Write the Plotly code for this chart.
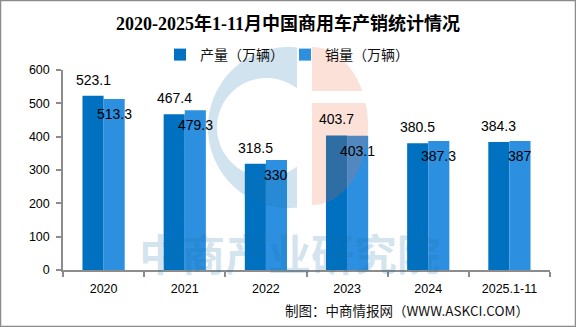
import numpy as np
import plotly.graph_objects as go

# ---- data -------------------------------------------------------------
years = ["2020", "2021", "2022", "2023", "2024", "2025.1-11"]
production = [523.1, 467.4, 318.5, 403.7, 380.5, 384.3]   # 产量（万辆）
sales = [513.3, 479.3, 330, 403.1, 387.3, 387]           # 销量（万辆）
y_ticks = [0, 100, 200, 300, 400, 500, 600]

title_text = "2020-2025年1-11月中国商用车产销统计情况"
source_text = "制图：中商情报网（WWW.ASKCI.COM）"
watermark_text = "中商产业研究院"

# ---- geometry of the canvas ----------------------------------------------
W, H = 576, 327
ML, MR, MT, MB = 63, 26, 70, 57
PW, PH = W - ML - MR, H - MT - MB

def px(x):  # pixel x -> paper x
    return (x - ML) / PW

def py(y):  # pixel y -> paper y
    return (H - MB - y) / PH

def path_from_pixels(pts):
    return "M " + " L ".join(f"{px(x):.5f},{py(y):.5f}" for x, y in pts) + " Z"

C_PROD = "#0070C0"
C_SALE = "#2C8FE0"
AXIS = "#8C8C8C"
NUM_FONT = "Liberation Sans, Noto Sans CJK SC, sans-serif"
CJK_FONT = "Noto Sans CJK SC, sans-serif"

fig = go.Figure()
fig.add_trace(go.Bar(name="产量（万辆）", x=years, y=production,
                     marker=dict(color=C_PROD, line=dict(width=0))))
fig.add_trace(go.Bar(name="销量（万辆）", x=years, y=sales,
                     marker=dict(color=C_SALE, line=dict(width=0))))

# ---- logo watermark: blue "C" ring and a peach half disc --------------------
cx, cy, r_out = 288.5, 127.5, 80.5
icx, r_in = 266.5, 49.5
x_cut = 297.0
t0 = np.degrees(np.arccos((x_cut - cx) / r_out))
ti = np.degrees(np.arccos((x_cut - icx) / r_in))
outer = [(cx + r_out * np.cos(np.radians(t)), cy - r_out * np.sin(np.radians(t)))
         for t in np.linspace(t0, 360 - t0, 120)]
inner = [(icx + r_in * np.cos(np.radians(t)), cy - r_in * np.sin(np.radians(t)))
         for t in np.linspace(360 - ti, ti, 90)]
ring_path = path_from_pixels(outer + inner)

ex, ey, erx, ery = 312.0, 126.0, 56.0, 79.0
gap_top, gap_bot = 91.0, 103.0

def half_ellipse_band(y_a, y_b):
    ts = np.linspace(np.arcsin((ey - y_a) / ery), np.arcsin((ey - y_b) / ery), 60)
    pts = [(ex + erx * np.cos(t), ey - ery * np.sin(t)) for t in ts]
    return [(ex, y_a)] + pts + [(ex, y_b)]

peach_top = path_from_pixels(half_ellipse_band(ey - ery, gap_top))
peach_bot = path_from_pixels(half_ellipse_band(gap_bot, ey + ery))

shapes = [
    dict(type="path", path=ring_path, xref="paper", yref="paper",
         fillcolor="rgba(25,115,170,0.2)", line=dict(width=0), layer="above"),
    dict(type="path", path=peach_top, xref="paper", yref="paper",
         fillcolor="rgba(235,107,59,0.2)", line=dict(width=0), layer="above"),
    dict(type="path", path=peach_bot, xref="paper", yref="paper",
         fillcolor="rgba(235,107,59,0.2)", line=dict(width=0), layer="above"),
    # outer frame of the graphic
    dict(type="rect", xref="paper", yref="paper",
         x0=px(0.5), x1=px(W - 0.5), y0=py(H - 0.5), y1=py(0.5),
         line=dict(color="#8C8C8C", width=1.5), fillcolor="rgba(0,0,0,0)",
         layer="above"),
]

annotations = [
    dict(text=watermark_text, x=px(289), y=py(252), xref="paper", yref="paper",
         showarrow=False, xanchor="center", yanchor="middle",
         font=dict(family=CJK_FONT, size=43, color="rgba(25,115,170,0.2)",
                   weight="bold")),
    dict(text=source_text, x=px(531), y=py(310), xref="paper", yref="paper",
         showarrow=False, xanchor="right", yanchor="middle",
         font=dict(family=CJK_FONT, size=13.5, color="#111111")),
]

# value labels: production above its bar, sales just inside its bar top
# (x given as category index so numeric-looking names are not read as numbers)
half_bar = PW / len(years) * 0.52 / 4
for i, (p, s) in enumerate(zip(production, sales)):
    annotations.append(dict(text=f"{p:g}", x=i, y=p, xref="x", yref="y",
                            xshift=-half_bar, yshift=16, showarrow=False,
                            xanchor="center", yanchor="middle",
                            font=dict(family=NUM_FONT, size=14, color="#000000")))
    annotations.append(dict(text=f"{s:g}", x=i, y=s, xref="x", yref="y",
                            xshift=half_bar, yshift=-15, showarrow=False,
                            xanchor="center", yanchor="middle",
                            font=dict(family=NUM_FONT, size=14, color="#000000")))

fig.update_layout(
    width=W, height=H,
    margin=dict(l=ML, r=MR, t=MT, b=MB, pad=0),
    paper_bgcolor="white", plot_bgcolor="white",
    barmode="group", bargap=0.48, bargroupgap=0,
    title=dict(text=title_text, x=0.5, xref="container", xanchor="center",
               y=1 - 24 / H, yanchor="middle",
               font=dict(family="Liberation Serif, Noto Sans CJK SC, serif",
                         size=18, color="#000000", weight="bold")),
    legend=dict(orientation="h", x=px(285), y=py(55), xanchor="center",
                yanchor="middle", font=dict(family=CJK_FONT, size=14,
                                             color="#111111"),
                itemwidth=30, entrywidth=80, tracegroupgap=0,
                bgcolor="rgba(0,0,0,0)"),
    xaxis=dict(type="category", range=[-0.5, len(years) - 0.5],
               showline=True, linecolor=AXIS, linewidth=1.5,
               ticks="outside", ticklen=5, tickcolor=AXIS, tickwidth=1.5,
               tickson="boundaries", showgrid=False, zeroline=False,
               ticklabelstandoff=6,
               tickfont=dict(family=NUM_FONT, size=12.5, color="#000000")),
    yaxis=dict(range=[0, 600], tickvals=y_ticks, showline=True,
               linecolor=AXIS, linewidth=1.5, ticks="outside", ticklen=5,
               tickcolor=AXIS, tickwidth=1.5, showgrid=False, zeroline=False,
               ticklabelstandoff=4,
               tickfont=dict(family=NUM_FONT, size=12.5, color="#000000")),
    shapes=shapes,
    annotations=annotations,
)

fig.write_html("out.html")
